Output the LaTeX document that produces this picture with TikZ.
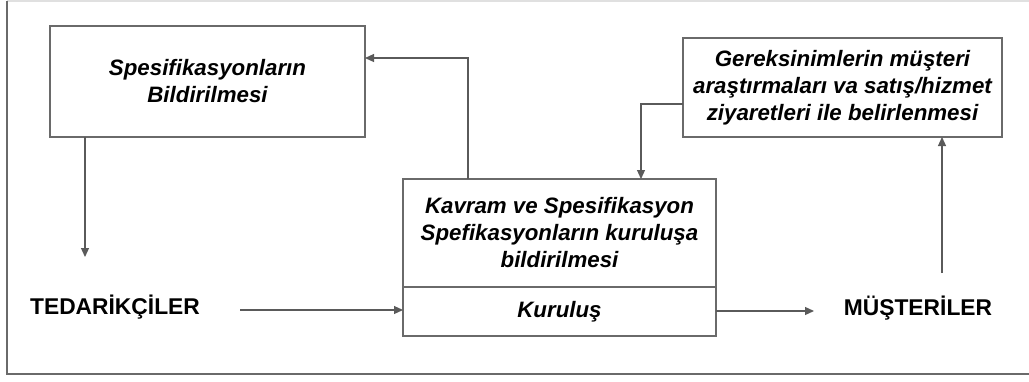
\documentclass[tikz,border=0pt]{standalone}
\usepackage{fontspec}
\setmainfont{Liberation Sans}
\usetikzlibrary{arrows.meta}
\definecolor{edge}{HTML}{5A5A5A}
\definecolor{frameline}{HTML}{6A6A6A}
\begin{document}
\begin{tikzpicture}[x=1pt,y=-1pt,
  every node/.style={inner sep=0pt, outer sep=0pt},
  block/.style={draw=frameline, line width=1.4pt, fill=white, align=center,
    font=\fontsize{22.3}{27}\selectfont\bfseries\itshape},
  party/.style={font=\fontsize{22.8}{26}\selectfont\bfseries},
  flow/.style={draw=edge, line width=1.2pt, -{Triangle[length=9pt,width=8pt]}}]
  \useasboundingbox (0,0) rectangle (1029,381);
  % outer frame
  \draw[draw=black!12, line width=1.2pt] (7,1) -- (1029,1);
  \draw[draw=frameline, line width=1.6pt] (7,1) -- (7,374) -- (1029,374);

  % boxes
  \node[block, minimum width=315pt, minimum height=111pt] (spec) at (207.5,81.5)
    {Spesifikasyonların\\Bildirilmesi};
  \node[block, minimum width=319pt, minimum height=99pt] (need) at (842.5,87.5)
    {Gereksinimlerin müşteri\\araştırmaları va satış/hizmet\\ziyaretleri ile belirlenmesi};
  \node[block, minimum width=313pt, minimum height=108pt] (concept) at (559.5,233)
    {Kavram ve Spesifikasyon\\Spefikasyonların kuruluşa\\bildirilmesi};
  \node[block, minimum width=313pt, minimum height=49pt] (org) at (559.5,311.5)
    {Kuruluş};

  % parties
  \node[party] (sup) at (115,307) {TEDARİKÇİLER};
  \node[party] (cust) at (918,308) {MÜŞTERİLER};

  % free ends of connectors
  \coordinate (supIn) at (85,257);
  \coordinate (supOut) at (240,310);
  \coordinate (custIn) at (814,311);
  \coordinate (custOut) at (942,273);
  \coordinate (upTurn) at (468,58);
  \coordinate (downTurn) at (641,104);

  % connectors
  \draw[flow] (spec.south -| supIn) -- (supIn);
  \draw[flow] (supOut) -- (supOut -| org.west);
  \draw[flow] (org.east |- custIn) -- (custIn);
  \draw[flow] (custOut) -- (custOut |- need.south);
  \draw[flow] (concept.north -| upTurn) -- (upTurn) -- (upTurn -| spec.east);
  \draw[flow] (need.west |- downTurn) -- (downTurn) -- (downTurn |- concept.north);
\end{tikzpicture}
\end{document}
